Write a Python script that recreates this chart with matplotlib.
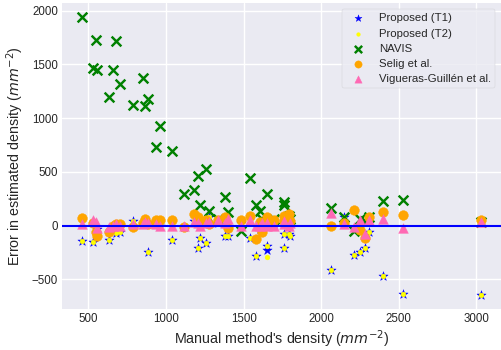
import numpy as np
import matplotlib
matplotlib.use("Agg")
import matplotlib.pyplot as plt

# densities from the manual method (one entry per image)
manual = [459, 528, 550, 556, 635, 656, 680, 702, 788, 850, 867, 884, 938, 959,
          1036, 1113, 1180, 1204, 1217, 1260, 1280, 1335, 1382, 1399, 1483, 1539,
          1580, 1607, 1616, 1650, 1652, 1693, 1757, 1762, 1790, 1800, 2065, 2150,
          2213, 2251, 2284, 2311, 2401, 2524, 3030]

err_t1 = [-140, -150, -10, -30, -134, -20, -72, -56, 40, 20, 30, -249, 10, 0,
          -134, -10, 40, -212, -115, -165, 84, 20, -100, -100, 20, -119,
          -280, -30, 20, -193, -224, 10, -208, -75, -78, -93, -411, 84,
          -274, -243, -212, -62, -467, -633, -648]

err_t2 = [-140, -150, -10, -30, -134, -20, -72, -56, 40, 20, 30, -249, 10, 0,
          -134, -10, 40, -212, -115, -165, 84, 20, -100, -100, 20, -119,
          -280, -30, 20, -193, -290, 10, -208, -75, -78, -93, -411, 84,
          -274, -243, -212, -62, -467, -633, -648]

err_navis = [1941, 1470, 1726, 1451, 1199, 1451, 1717, 1315, 1121, 1371, 1112, 1175, 729, 928,
             694, 290, 327, 464, 190, 526, 134, 60, 265, 130, -47, 439,
             190, 140, 60, 296, 40, 60, 218, 187, 93, 60, 160, 78,
             -47, 63, 40, 78, 224, 234, 30]

err_selig = [68, 20, -60, -100, -60, 0, 16, 10, -9, 20, 63, 10, 47, 53,
             47, -9, 103, 80, 40, 47, 10, 47, 84, -21, 47, 93,
             -124, 30, -56, 78, 10, 47, 93, 40, 103, 40, -7, 21,
             147, -40, -115, 84, 124, 100, 53]

err_vig = [14, 47, 30, -20, -9, 0, 10, 0, 10, 10, 30, 20, 10, 0,
           0, 0, 30, 20, 0, 20, 30, 47, 20, 63, 0, 47,
           0, 0, 20, 0, 20, 0, 16, 40, 0, 20, 115, 14,
           -9, 47, -78, 47, 63, -25, 37]

plt.style.use("seaborn-v0_8")
plt.rcParams["font.family"] = ["Liberation Sans", "DejaVu Sans"]

fig = plt.figure(figsize=(5.01, 3.5), dpi=100)
ax = fig.add_axes([0.124, 0.117, 0.876, 0.874])

ax.scatter(manual, err_t1, marker="*", color="blue", label="Proposed (T1)")
ax.scatter(manual, err_t2, marker=".", color="yellow", label="Proposed (T2)")
ax.scatter(manual, err_navis, marker="x", color="green", label="NAVIS")
ax.scatter(manual, err_selig, marker="o", color="orange", label="Selig et al.")
ax.scatter(manual, err_vig, marker="^", color="hotpink", label="Vigueras-Guillén et al.")
ax.axhline(0, color="blue", linewidth=1.5)

ax.set_xlabel("Manual method's density ($mm^{-2}$)", fontsize=10.3, labelpad=2)
ax.set_ylabel("Error in estimated density ($mm^{-2}$)", fontsize=10.3, labelpad=4)
ax.tick_params(labelsize=8.3, pad=3)
leg = ax.legend(loc="upper right", frameon=True, fontsize=8.2, markerscale=0.75,
                labelspacing=0.45)
leg.get_frame().set_facecolor("#EAEAF2")
leg.get_frame().set_edgecolor("#C8C8CC")

fig.savefig("out.png", dpi=100)
